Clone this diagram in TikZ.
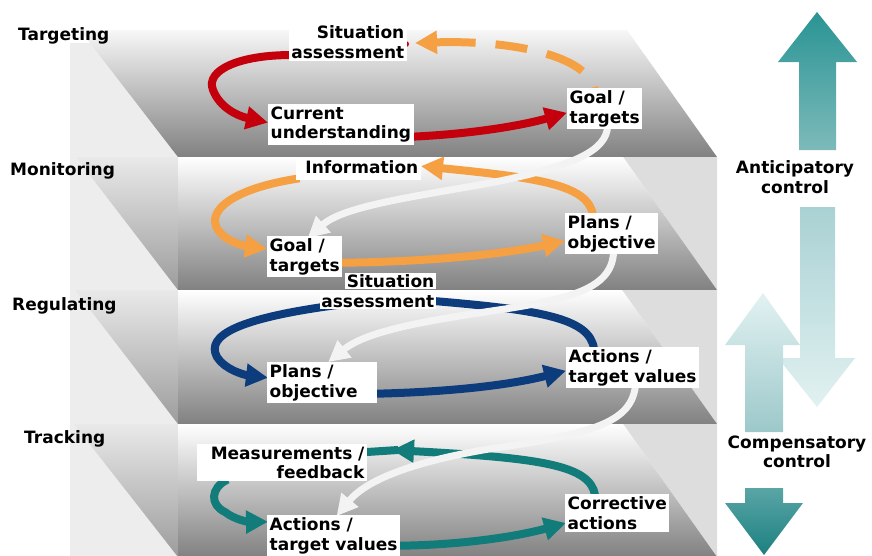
\documentclass[tikz,border=0pt]{standalone}
\usepackage{fontspec}
\setmainfont{DejaVu Sans}
\usetikzlibrary{arrows.meta,calc}
\setlength{\fboxsep}{1.5pt}
\definecolor{loopred}{HTML}{C4000C}
\definecolor{looporange}{HTML}{F5A043}
\definecolor{loopnavy}{HTML}{0C3C7C}
\definecolor{loopteal}{HTML}{127C7A}
\definecolor{spiral}{HTML}{F3F3F3}
\definecolor{wallgray}{HTML}{EDEDED}
\definecolor{sidegray}{HTML}{DDDDDD}
\definecolor{floortop}{HTML}{F7F7F7}
\definecolor{floormid}{HTML}{D2D2D2}
\definecolor{floordark}{HTML}{818181}
\definecolor{sidetop}{HTML}{E9E9E9}
\definecolor{sidebot}{HTML}{9C9C9C}
\definecolor{antitop}{HTML}{2A9494}
\definecolor{antibot}{HTML}{7DBABA}
\definecolor{antidowntop}{HTML}{A9D1D3}
\definecolor{antidownbot}{HTML}{E2F1F1}
\definecolor{compuptop}{HTML}{E3F2F2}
\definecolor{compupbot}{HTML}{9CC8CA}
\definecolor{compdowntop}{HTML}{5AA5A6}
\definecolor{compdownbot}{HTML}{1C8080}
\pgfdeclarelayer{floors}
\pgfdeclarelayer{loops}
\pgfsetlayers{floors,loops,main}

\begin{document}
\begin{tikzpicture}[x=1pt,y=-1pt,
  txt/.style={font=\bfseries\fontsize{17}{19.5}\selectfont},
  lvl/.style={txt, inner sep=0pt},
  lbl/.style={txt, fill=white, inner sep=2.5pt, align=left},
  rlbl/.style={txt, fill=white, inner sep=2.5pt, align=right},
  loopline/.style={line width=8pt, -{Triangle[length=22pt,width=22pt]}},
  backloop/.style={line width=8pt, {Triangle[length=22pt,width=22pt]}-},
  plainloop/.style={line width=8pt},
  spiralline/.style={spiral, line width=7pt, -{Triangle[length=21pt,width=21pt]}}]
\useasboundingbox (0,0) rectangle (872,555);

\begin{pgfonlayer}{floors}
  % outer left wall
  \fill[wallgray] (70,43) rectangle (178,560);
  % top floor
  \shade[top color=floortop, middle color=floormid, bottom color=floordark]
    (80,30) -- (627,30) -- (717,157) -- (178,157) -- cycle;
  % lower floors
  \foreach \yt/\yb/\lt/\rt in {157/290/76/623, 290/424/75/622, 424/557/74/623} {
    \fill[sidegray] (\rt,\yt) -- (717,\yt) -- (717,\yb) -- cycle;
    \shade[top color=sidetop, bottom color=sidebot]
      (\lt,\yt) -- (178,\yt) -- (178,\yb) -- cycle;
    \shade[top color=white, middle color=floormid, bottom color=floordark]
      (178,\yt) -- (\rt,\yt) -- (717,\yb) -- (178,\yb) -- cycle;
  }
  % control direction arrows
  \shade[top color=antitop, bottom color=antibot]
    (817,12) -- (857,62) -- (836,62) -- (836,150) -- (799,150) -- (799,62) -- (778,62) -- cycle;
  \shade[top color=antidowntop, bottom color=antidownbot]
    (800,207) -- (835,207) -- (835,358) -- (855,358) -- (817,407) -- (778,358) -- (800,358) -- cycle;
  \shade[top color=compuptop, bottom color=compupbot]
    (763,293) -- (800,345) -- (783,345) -- (783,432) -- (745,432) -- (745,345) -- (725,345) -- cycle;
  \shade[top color=compdowntop, bottom color=compdownbot]
    (745,488) -- (783,488) -- (783,503) -- (803,503) -- (764,555) -- (725,503) -- (745,503) -- cycle;
\end{pgfonlayer}

% level names
\node[lvl, anchor=base west] (targeting) at (18,40) {Targeting};
\node[lvl, anchor=base west] (monitoring) at (10,175) {Monitoring};
\node[lvl, anchor=base west] (regulating) at (12,310) {Regulating};
\node[lvl, anchor=base west] (tracking) at (24,443) {Tracking};

% targeting loop labels
\node[rlbl, anchor=north east] (sa1) at (407,23) {Situation\\assessment};
\node[lbl, anchor=north west] (cu) at (268,104) {Current\\understanding};
\node[lbl, anchor=north west] (g1) at (567,88) {Goal /\\targets};

% monitoring loop labels
\node[rlbl, anchor=north east, text width=120pt, text depth=4pt] (info) at (421,158) {Information};
\node[lbl, anchor=north west] (g2) at (267,236) {Goal /\\targets};
\node[lbl, anchor=north west] (pl2) at (565,213) {Plans /\\objective};

% regulating loop labels
\node[txt, anchor=north east, inner sep=0pt, align=right] (sa3) at (436,273)
  {\colorbox{white}{Situation}\\\colorbox{white}{assessment}};
\node[lbl, anchor=north west, text width=105pt] (pl3) at (267,362) {Plans /\\objective};
\node[lbl, anchor=north west] (act3) at (566,347) {Actions /\\target values};

% tracking loop labels
\node[rlbl, anchor=north east, text width=165pt] (ms) at (367,444) {Measurements /\\feedback};
\node[lbl, anchor=north west] (act4) at (267,515) {Actions /\\target values};
\node[lbl, anchor=north west] (cor) at (565,494) {Corrective\\actions};

% control labels
\node[txt, align=center, inner sep=0pt] (anti) at (795,177) {Anticipatory\\control};
\node[txt, align=center, inner sep=0pt] (comp) at (797,452) {Compensatory\\control};

\begin{pgfonlayer}{loops}
  % targeting
  \draw[loopline, loopred] ($(sa1.south west)+(2,-6)$)
    .. controls (240,55) and (205,70) .. (213,90)
    .. controls (220,108) and (238,116) .. ($(cu.west)+(0,-2)$);
  \draw[loopline, loopred] ($(cu.east)+(0,12)$)
    .. controls (470,134) and (520,126) .. ($(g1.west)+(0,4)$);
  \draw[backloop, looporange, dash pattern=on 40pt off 20pt on 32pt off 20pt]
    ($(sa1.east)+(8,1)$) .. controls (510,40) and (588,55) .. ($(g1.north)+(-10,2)$);
  \fill[loopred] ($(sa1.east)+(-1,2)$) circle (3pt);
  % monitoring
  \draw[loopline, looporange] ($(pl2.north west)+(28,2)$)
    .. controls (588,185) and (540,178) .. ($(info.east)+(0,-3)$);
  \draw[loopline, looporange] ($(info.south west)+(4,-2)$)
    .. controls (235,188) and (205,210) .. (218,230)
    .. controls (226,242) and (245,246) .. ($(g2.west)+(0,-8)$);
  \draw[loopline, looporange] ($(g2.east)+(-3,6)$)
    .. controls (420,262) and (500,255) .. ($(pl2.west)+(0,7)$);
  % regulating
  \draw[plainloop, loopnavy] ($(act3.north west)+(28,2)$)
    .. controls (590,318) and (540,310) .. ($(sa3.east)+(-2,10)$);
  \draw[loopline, loopnavy] ($(sa3.south west)+(17,-4)$)
    .. controls (240,318) and (205,335) .. (217,357)
    .. controls (225,370) and (245,375) .. ($(pl3.west)+(1,-5)$);
  \draw[loopline, loopnavy] ($(pl3.east)+(-3,11)$)
    .. controls (450,392) and (510,385) .. ($(act3.west)+(0,3)$);
  % tracking
  \coordinate (fbtip) at ($(ms.north east)+(25,6)$);
  \draw[loopline, loopteal] ($(cor.north west)+(30,1)$)
    .. controls (590,465) and (540,458) .. (fbtip);
  \draw[plainloop, loopteal] ($(fbtip)+(6,0)$) -- ($(ms.north east)+(0,8)$);
  \draw[loopline, loopteal] ($(ms.south west)+(31,-2)$)
    .. controls (210,488) and (210,505) .. (225,512)
    .. controls (235,520) and (250,522) .. ($(act4.west)+(1,-14)$);
  \draw[loopline, loopteal] ($(act4.east)+(-2,10)$)
    .. controls (460,545) and (515,537) .. ($(cor.west)+(1,10)$);
  % spiral between levels
  \draw[spiralline] ($(g1.south)+(3,-4)$)
    .. controls (607,152) and (570,166) .. (500,181)
    .. controls (420,196) and (345,205) .. ($(g2.north)+(3,2)$);
  \draw[spiralline] ($(pl2.south)+(2,-4)$)
    .. controls (613,287) and (575,298) .. (505,309)
    .. controls (430,320) and (368,330) .. ($(pl3.north)+(6,0)$);
  \draw[spiralline] ($(act3.south)+(3,-4)$)
    .. controls (632,420) and (600,433) .. (495,448)
    .. controls (420,460) and (368,478) .. ($(act4.north)+(3,1)$);
\end{pgfonlayer}
\end{tikzpicture}
\end{document}
